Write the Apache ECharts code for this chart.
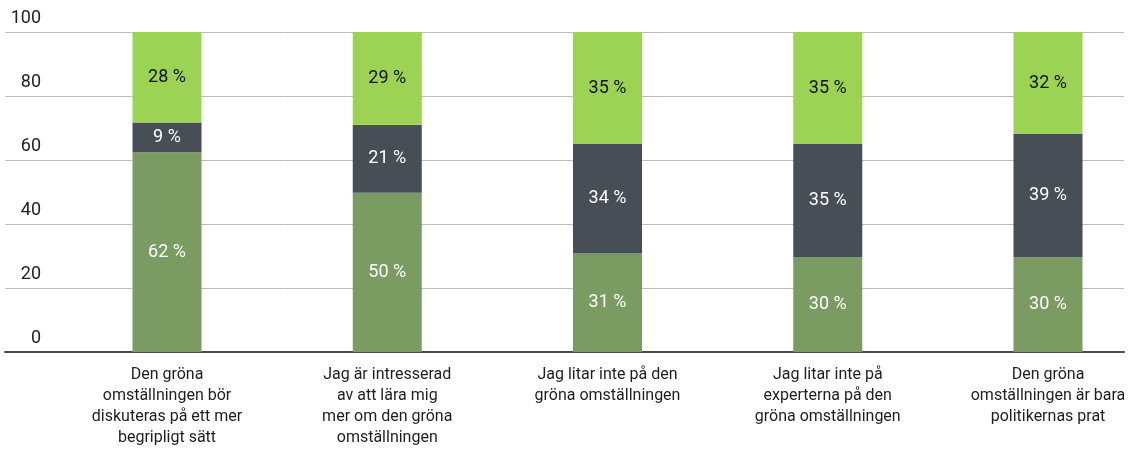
<!DOCTYPE html>
<html>
<head>
<meta charset="utf-8">
<script src="https://cdn.jsdelivr.net/npm/echarts@6/dist/echarts.min.js"></script>
<style>
html,body{margin:0;padding:0;background:#fff;}
#chart{width:1138px;height:451px;}
</style>
</head>
<body>
<div id="chart"></div>
<script>
const categories = [
  "Den gröna\nomställningen bör\ndiskuteras på ett mer\nbegripligt sätt",
  "Jag är intresserad\nav att lära mig\nmer om den gröna\nomställningen",
  "Jag litar inte på den\ngröna omställningen",
  "Jag litar inte på\nexperterna på den\ngröna omställningen",
  "Den gröna\nomställningen är bara\npolitikernas prat"
];
const greenValues = [62.4, 49.8, 30.8, 29.7, 29.6];
const darkValues = [9.3, 21.2, 34.2, 35.3, 38.5];
const lightValues = [28.3, 29.0, 35.0, 35.0, 31.9];
const yTicks = [0, 20, 40, 60, 80, 100];

const FONT = 'Roboto';
const fmt = p => Math.round(p.value) + ' %';

function barSeries(name, data, color, textColor) {
  return {
    name, type: 'bar', stack: 'total', data,
    xAxisIndex: 1, yAxisIndex: 1,
    barWidth: 69,
    itemStyle: { color },
    label: { show: true, position: 'inside', formatter: fmt, color: textColor,
             fontFamily: FONT, fontSize: 18 },
    emphasis: { disabled: true }
  };
}

const chart = echarts.init(document.getElementById('chart'), null, { renderer: 'canvas' });
chart.setOption({
  animation: false,
  backgroundColor: '#ffffff',
  grid: [
    { left: 5, right: 14, top: 32, bottom: 99 },
    { left: 167, right: 90, top: 32, bottom: 99 }
  ],
  xAxis: [
    { type: 'category', gridIndex: 0, data: categories,
      axisLine: { show: true, lineStyle: { color: '#4a4a4a', width: 2 } },
      axisTick: { show: false }, axisLabel: { show: false }, splitLine: { show: false } },
    { type: 'category', gridIndex: 1, data: categories, boundaryGap: false,
      axisLine: { show: false }, axisTick: { show: false },
      axisLabel: { show: true, interval: 0, margin: 12, color: '#1e1e1e',
                   fontFamily: FONT, fontSize: 16, lineHeight: 21, align: 'center' } }
  ],
  yAxis: [
    { type: 'value', gridIndex: 0, min: yTicks[0], max: yTicks[yTicks.length - 1], interval: 20,
      axisLine: { show: false }, axisTick: { show: false },
      splitLine: { show: true, lineStyle: { color: '#bdbdbd', width: 1 } },
      axisLabel: { show: true, inside: true, margin: 36, align: 'right', verticalAlign: 'bottom',
                   padding: [0, 0, 5, 0], color: '#1e1e1e', fontFamily: FONT, fontSize: 18 } },
    { type: 'value', gridIndex: 1, min: 0, max: 100, show: false, splitLine: { show: false } }
  ],
  series: [
    barSeries('green', greenValues, '#7a9b62', '#ffffff'),
    barSeries('dark', darkValues, '#474e55', '#ffffff'),
    barSeries('light', lightValues, '#9dd355', '#111111')
  ]
});
</script>
</body>
</html>
